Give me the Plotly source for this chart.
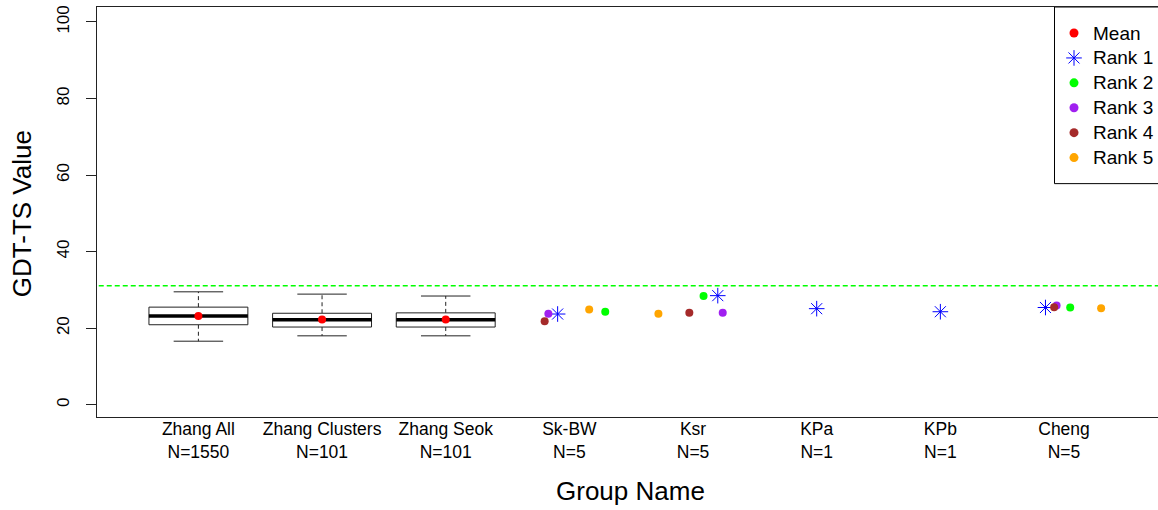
import plotly.graph_objects as go

# ---------------- data ----------------
categories = ["Zhang All", "Zhang Clusters", "Zhang Seok", "Sk-BW", "Ksr", "KPa", "KPb", "Cheng"]
counts = [1550, 101, 101, 5, 5, 1, 1, 5]

box_groups = ["Zhang All", "Zhang Clusters", "Zhang Seok"]
box_lower = [16.6, 18.0, 18.0]
box_q1 = [20.9, 20.3, 20.3]
box_median = [23.2, 22.2, 22.2]
box_q3 = [25.5, 23.9, 24.0]
box_upper = [29.5, 28.9, 28.4]
box_mean = [23.2, 22.3, 22.3]

reference_value = 31.1

rank1_groups = ["Sk-BW", "Ksr", "KPa", "KPb", "Cheng"]
rank1_jitter = [-0.095, 0.20, 0.0, 0.0, -0.15]
rank1_values = [23.7, 28.5, 25.1, 24.3, 25.4]

rank2_groups = ["Sk-BW", "Ksr", "Cheng"]
rank2_jitter = [0.29, 0.085, 0.05]
rank2_values = [24.3, 28.4, 25.4]

rank3_groups = ["Sk-BW", "Ksr", "Cheng"]
rank3_jitter = [-0.17, 0.24, -0.06]
rank3_values = [23.8, 24.0, 25.9]

rank4_groups = ["Sk-BW", "Ksr", "Cheng"]
rank4_jitter = [-0.20, -0.03, -0.08]
rank4_values = [21.8, 24.0, 25.5]

rank5_groups = ["Sk-BW", "Ksr", "Cheng"]
rank5_jitter = [0.16, -0.28, 0.30]
rank5_values = [24.9, 23.8, 25.2]

legend_labels = ["Mean", "Rank 1", "Rank 2", "Rank 3", "Rank 4", "Rank 5"]
legend_colors = ["#FF0000", "#0000FF", "#00FF00", "#A020F0", "#A52A2A", "#FFA500"]
legend_symbols = ["circle", "asterisk-open", "circle", "circle", "circle", "circle"]

# ---------------- helpers ----------------
FONT = "Liberation Sans, Arial, sans-serif"
pos = {c: i + 1 for i, c in enumerate(categories)}
BOXW = 0.4
CAPW = 0.2
DOT = 8
STAR = 13

fig = go.Figure()

# reference dashed line
fig.add_trace(go.Scatter(
    x=[0.0, 9.5], y=[reference_value, reference_value], mode="lines",
    line=dict(color="#00FF00", width=1.6, dash="5px,3px"),
    showlegend=False, hoverinfo="skip"))

bx, by, mx, my, wx, wy, cx, cy = [], [], [], [], [], [], [], []
for g, lo, q1, med, q3, hi in zip(box_groups, box_lower, box_q1, box_median, box_q3, box_upper):
    p = pos[g]
    bx += [p - BOXW, p + BOXW, p + BOXW, p - BOXW, p - BOXW, None]
    by += [q1, q1, q3, q3, q1, None]
    mx += [p - BOXW, p + BOXW, None]
    my += [med, med, None]
    wx += [p, p, None, p, p, None]
    wy += [q3, hi, None, q1, lo, None]
    cx += [p - CAPW, p + CAPW, None, p - CAPW, p + CAPW, None]
    cy += [hi, hi, None, lo, lo, None]

fig.add_trace(go.Scatter(x=wx, y=wy, mode="lines", line=dict(color="#222", width=1, dash="4px,3px"),
                         showlegend=False, hoverinfo="skip"))
fig.add_trace(go.Scatter(x=cx, y=cy, mode="lines", line=dict(color="#222", width=1),
                         showlegend=False, hoverinfo="skip"))
fig.add_trace(go.Scatter(x=bx, y=by, mode="lines", line=dict(color="#222", width=1),
                         fill="toself", fillcolor="white", showlegend=False, hoverinfo="skip"))
fig.add_trace(go.Scatter(x=mx, y=my, mode="lines", line=dict(color="black", width=3.5),
                         showlegend=False, hoverinfo="skip"))

fig.add_trace(go.Scatter(
    x=[pos[g] for g in box_groups], y=box_mean, mode="markers", name="Mean", showlegend=False,
    marker=dict(color=legend_colors[0], size=DOT, symbol="circle")))


def rank_trace(name, groups, jitter, values, color, symbol):
    xs = [pos[g] + j for g, j in zip(groups, jitter)]
    if symbol == "circle":
        marker = dict(color=color, size=DOT, symbol=symbol)
    else:
        marker = dict(color=color, size=STAR, symbol=symbol, line=dict(color=color, width=1))
    return go.Scatter(x=xs, y=values, mode="markers", name=name, marker=marker, showlegend=False)


rank_data = [
    (rank1_groups, rank1_jitter, rank1_values),
    (rank2_groups, rank2_jitter, rank2_values),
    (rank3_groups, rank3_jitter, rank3_values),
    (rank4_groups, rank4_jitter, rank4_values),
    (rank5_groups, rank5_jitter, rank5_values),
]
for k, (g, j, v) in enumerate(rank_data):
    fig.add_trace(rank_trace(legend_labels[k + 1], g, j, v, legend_colors[k + 1], legend_symbols[k + 1]))

# ---------------- legend (R style box) on a pixel-coordinate overlay axis ----------------
LEG_LEFT, LEG_TOP, LEG_BOTTOM = 1054.5, 7, 183.5
LEG_MARK_X, LEG_TEXT_X = 1074, 1091
LEG_ROW0, LEG_ROW_STEP = 33, 24.9
leg_y = [LEG_ROW0 + LEG_ROW_STEP * k for k in range(len(legend_labels))]

for k, lab in enumerate(legend_labels):
    sym = legend_symbols[k]
    mk = dict(color=legend_colors[k], size=STAR if sym != "circle" else DOT + 1, symbol=sym)
    if sym != "circle":
        mk["line"] = dict(color=legend_colors[k], width=1)
    fig.add_trace(go.Scatter(x=[LEG_MARK_X], y=[leg_y[k]], mode="markers", marker=mk,
                             xaxis="x2", yaxis="y2", showlegend=False, hoverinfo="skip"))

ticktext = [f"{c}<br>N={n}" for c, n in zip(categories, counts)]

annotations = [
    dict(text="GDT-TS Value", xref="paper", yref="paper", x=-0.0707, y=0.497,
         xanchor="center", yanchor="middle", textangle=-90, showarrow=False,
         font=dict(size=26, family=FONT)),
    dict(text="Group Name", xref="paper", yref="paper", x=0.503, y=-0.181,
         xanchor="center", yanchor="middle", showarrow=False,
         font=dict(size=26, family=FONT)),
]
for k, lab in enumerate(legend_labels):
    annotations.append(dict(text=lab, xref="x2", yref="y2", x=LEG_TEXT_X, y=leg_y[k],
                            xanchor="left", yanchor="middle", showarrow=False,
                            font=dict(size=19, family=FONT)))

fig.update_layout(
    width=1158, height=510,
    margin=dict(l=97, r=0, t=7, b=93, autoexpand=False),
    paper_bgcolor="white", plot_bgcolor="white",
    font=dict(family=FONT, color="black"),
    showlegend=False,
    xaxis=dict(range=[0.18, 8.76], tickvals=list(range(1, len(categories) + 1)), ticktext=ticktext,
               showgrid=False, zeroline=False, showline=True, linecolor="#222", linewidth=1,
               mirror=True, ticks="", ticklabelstandoff=-4, tickfont=dict(size=17.5, family=FONT)),
    yaxis=dict(range=[-3.2, 103.9], tickvals=[0, 20, 40, 60, 80, 100], showgrid=False, zeroline=False,
               showline=True, linecolor="#222", linewidth=1, ticks="outside", ticklen=10,
               tickcolor="#222", tickangle=-90, ticklabelstandoff=10,
               tickfont=dict(size=17, family=FONT)),
    xaxis2=dict(overlaying="x", range=[97, 1158], visible=False, fixedrange=True),
    yaxis2=dict(overlaying="y", range=[416.7, 7], visible=False, fixedrange=True),
    shapes=[dict(type="rect", xref="x2", yref="y2", x0=LEG_LEFT, x1=1170, y0=LEG_TOP, y1=LEG_BOTTOM,
                 line=dict(color="black", width=1), fillcolor="white", layer="below")],
    annotations=annotations,
)

fig.write_html("out.html")
